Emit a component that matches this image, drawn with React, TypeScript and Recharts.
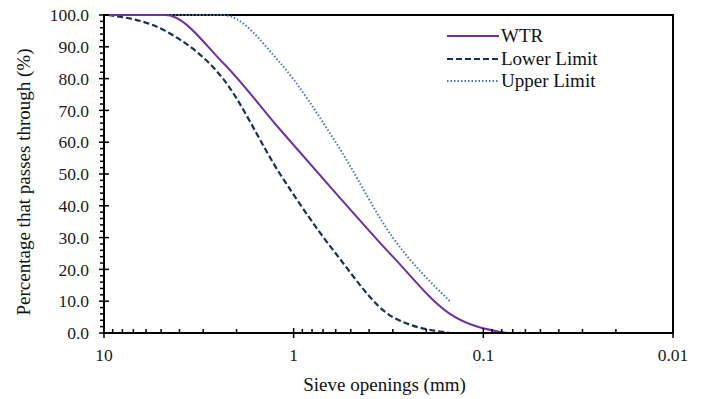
import React from "react";
import {
  LineChart,
  Line,
  XAxis,
  YAxis,
  Legend,
  ReferenceArea,
} from "recharts";

// sieve sizes in mm, passing in %
const wtrSieves = [9.5, 4.75, 2.36, 1.18, 0.6, 0.3, 0.15, 0.075];
const wtrPassing = [100, 100, 85, 64, 44, 24, 6, 0];

const limitSieves = [9.5, 4.75, 2.36, 1.18, 0.6, 0.3, 0.15];
const lowerPassing = [100, 95, 80, 50, 25, 5, 0];
const upperPassing = [100, 100, 100, 85, 60, 30, 10];

const xMajor = [10, 1, 0.1, 0.01];
const xTicks = [
  10, 9, 8, 7, 6, 5, 4, 3, 2, 1, 0.9, 0.8, 0.7, 0.6, 0.5, 0.4, 0.3, 0.2, 0.1,
  0.09, 0.08, 0.07, 0.06, 0.05, 0.04, 0.03, 0.02, 0.01,
];
const yTicks = [
  0, 2, 4, 6, 8, 10, 12, 14, 16, 18, 20, 22, 24, 26, 28, 30, 32, 34, 36, 38, 40,
  42, 44, 46, 48, 50, 52, 54, 56, 58, 60, 62, 64, 66, 68, 70, 72, 74, 76, 78, 80,
  82, 84, 86, 88, 90, 92, 94, 96, 98, 100,
];

const toPoints = (sizes: number[], vals: number[]) =>
  sizes.map((s, i) => ({ size: s, pct: vals[i] }));

const wtrData = toPoints(wtrSieves, wtrPassing);
const lowerData = toPoints(limitSieves, lowerPassing);
const upperData = toPoints(limitSieves, upperPassing);

const FONT = "'Liberation Serif', 'Times New Roman', serif";

const series = [
  { name: "WTR", color: "#7030A0", dash: undefined as string | undefined },
  { name: "Lower Limit", color: "#1B2F5E", dash: "6 3" },
  { name: "Upper Limit", color: "#4A72C0", dash: "1.5 2" },
];

const YTick = (props: any) => {
  const { x, y, payload } = props;
  const v = payload.value as number;
  const major = v % 10 === 0;
  return (
    <g>
      {major ? (
        <line x1={x - 5} x2={x + 5} y1={y} y2={y} stroke="#000" strokeWidth={1.5} />
      ) : (
        <line x1={x - 4} x2={x} y1={y} y2={y} stroke="#000" strokeWidth={1.5} />
      )}
      {major && (
        <text
          x={x - 15}
          y={y}
          dy="0.35em"
          textAnchor="end"
          fontFamily={FONT}
          fontSize={17.5}
          fill="#1a1a1a"
        >
          {v.toFixed(1)}
        </text>
      )}
    </g>
  );
};

const XTick = (props: any) => {
  const { x, y, payload } = props;
  const v = payload.value as number;
  const major = xMajor.some((m) => Math.abs(m - v) < 1e-9);
  return (
    <g>
      {major ? (
        <line x1={x} x2={x} y1={y - 5} y2={y + 5} stroke="#000" strokeWidth={1.5} />
      ) : (
        <line x1={x} x2={x} y1={y - 4} y2={y} stroke="#000" strokeWidth={1.5} />
      )}
      {major && (
        <text
          x={x}
          y={y + 28}
          textAnchor="middle"
          fontFamily={FONT}
          fontSize={17.5}
          fill="#1a1a1a"
        >
          {String(v)}
        </text>
      )}
    </g>
  );
};

const YTitle = () => (
  <text
    x={23}
    y={182}
    transform="rotate(-90 23 182)"
    textAnchor="middle"
    dominantBaseline="central"
    fontFamily={FONT}
    fontSize={19}
    fill="#111"
  >
    Percentage that passes through (%)
  </text>
);

const LegendBox = () => (
  <div style={{ fontFamily: FONT, fontSize: 19, color: "#111" }}>
    {series.map((s) => (
      <div key={s.name} style={{ display: "flex", alignItems: "center", height: 22.5 }}>
        <svg width={54} height={10}>
          <line
            x1={0}
            x2={52}
            y1={5}
            y2={5}
            stroke={s.color}
            strokeWidth={2}
            strokeDasharray={s.dash}
          />
        </svg>
        <span>{s.name}</span>
      </div>
    ))}
  </div>
);

export default function App() {
  return (
    <div style={{ position: "absolute", left: 0, top: 0, width: 703, height: 399, background: "#fff" }}>
      <LineChart
        width={703}
        height={399}
        margin={{ top: 15, right: 30, bottom: 0, left: 0 }}
      >
        <XAxis
          dataKey="size"
          type="number"
          scale="log"
          domain={[0.01, 10]}
          reversed
          ticks={xTicks}
          interval={0}
          allowDataOverflow
          height={66}
          tickLine={false}
          tickSize={0}
          tickMargin={0}
          tick={<XTick />}
          axisLine={{ stroke: "#000", strokeWidth: 2 }}
          label={{
            value: "Sieve openings (mm)",
            position: "insideBottom",
            offset: 8,
            dx: -4,
            style: { fontFamily: FONT, fontSize: 19, fill: "#111" },
          }}
        />
        <YAxis
          type="number"
          domain={[0, 100]}
          ticks={yTicks}
          interval={0}
          width={104}
          tickLine={false}
          tickSize={0}
          tickMargin={0}
          tick={<YTick />}
          axisLine={{ stroke: "#000", strokeWidth: 2 }}
          label={<YTitle />}
        />
        <ReferenceArea
          x1={10}
          x2={0.01}
          y1={0}
          y2={100}
          fill="none"
          stroke="#000"
          strokeWidth={2}
        />
        <Legend
          layout="vertical"
          align="center"
          verticalAlign="middle"
          content={<LegendBox />}
          wrapperStyle={{ position: "absolute", left: 447, top: 25, width: 200 }}
        />
        <Line
          data={upperData}
          dataKey="pct"
          name="Upper Limit"
          type="monotone"
          stroke="#4A72C0"
          strokeWidth={2}
          strokeDasharray="1.5 2"
          dot={false}
          isAnimationActive={false}
        />
        <Line
          data={lowerData}
          dataKey="pct"
          name="Lower Limit"
          type="monotone"
          stroke="#1B2F5E"
          strokeWidth={2.2}
          strokeDasharray="6 3"
          dot={false}
          isAnimationActive={false}
        />
        <Line
          data={wtrData}
          dataKey="pct"
          name="WTR"
          type="monotone"
          stroke="#7030A0"
          strokeWidth={2}
          dot={false}
          isAnimationActive={false}
        />
      </LineChart>
    </div>
  );
}
